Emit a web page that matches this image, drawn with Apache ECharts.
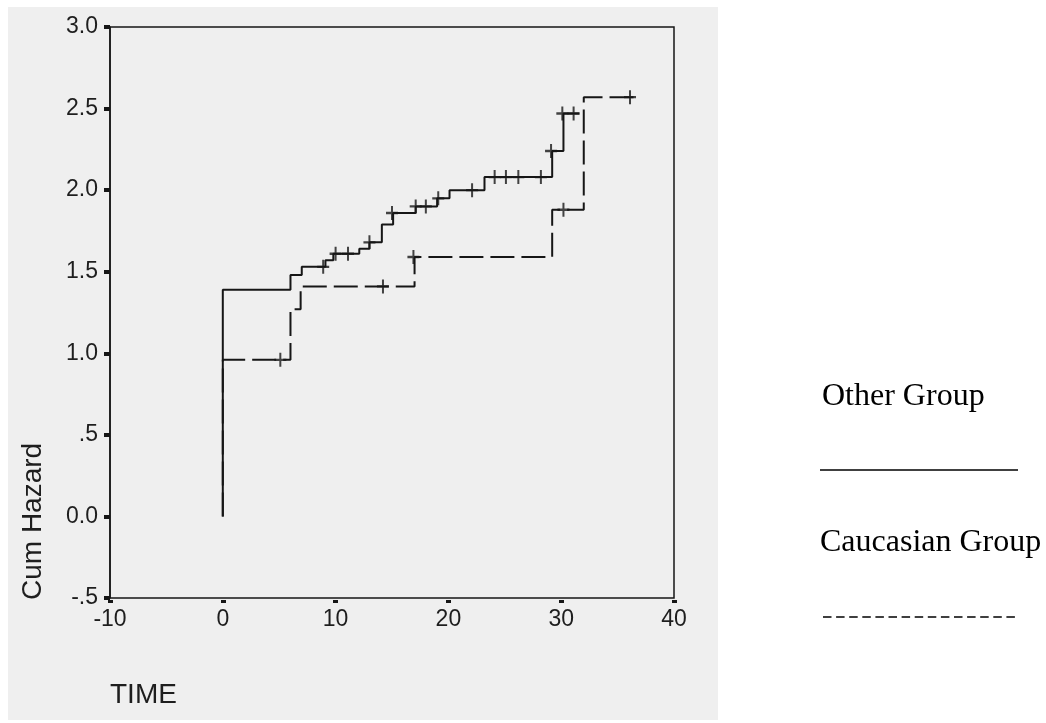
<!DOCTYPE html>
<html>
<head>
<meta charset="utf-8">
<script src="https://cdn.jsdelivr.net/npm/echarts@6/dist/echarts.min.js"></script>
<style>
html,body{margin:0;padding:0;background:#ffffff;}
#chart{width:1046px;height:723px;}
</style>
</head>
<body>
<div id="chart"></div>
<script>
// ---- data ----
const otherName = 'Other Group';
const caucName = 'Caucasian Group';

// step curve of cumulative hazard: [time, value] (value reached at that time)
const otherTimes  = [0, 0,    6.0,  7.0,  9.1,  9.8,  12.1, 13.0, 14.1, 15.1, 17.1, 19.0, 20.1, 23.2, 29.2, 30.2, 31.6];
const otherValues = [0, 1.39, 1.48, 1.53, 1.57, 1.61, 1.64, 1.68, 1.79, 1.86, 1.90, 1.95, 2.00, 2.08, 2.24, 2.47, 2.47];

const caucTimes  = [0, 0,    6.0,  6.9,  17.0, 29.2, 32.0, 36.6];
const caucValues = [0, 0.96, 1.27, 1.41, 1.59, 1.88, 2.57, 2.57];

// censored observations (+ marks)
const otherCensTimes  = [8.9,  10.0, 11.1, 13.0, 15.0, 17.1, 18.0, 19.1, 22.1, 24.1, 25.1, 26.2, 28.2, 29.1, 30.1, 31.1];
const otherCensValues = [1.53, 1.61, 1.61, 1.68, 1.86, 1.90, 1.90, 1.95, 2.00, 2.08, 2.08, 2.08, 2.08, 2.24, 2.47, 2.47];

const caucCensTimes  = [5.1,  14.2, 16.9, 30.2, 36.1];
const caucCensValues = [0.96, 1.41, 1.59, 1.88, 2.57];

const yTickLabels = ['-.5', '0.0', '.5', '1.0', '1.5', '2.0', '2.5', '3.0'];
const xTickLabels = ['-10', '0', '10', '20', '30', '40'];
const yAxisTitle = 'Cum Hazard';
const xAxisTitle = 'TIME';

// ---- build ----
const zip = (a, b) => a.map((v, i) => [v, b[i]]);
const ink = '#161616';
const plusPath = 'path://M5,0H7V5H12V7H7V12H5V7H0V5H5Z';

const chart = echarts.init(document.getElementById('chart'), null, {renderer: 'canvas'});
chart.setOption({
  animation: false,
  backgroundColor: '#ffffff',
  grid: {
    left: 110, top: 27, width: 564, height: 571,
    show: true, borderColor: ink, borderWidth: 1.5, backgroundColor: 'transparent'
  },
  xAxis: {
    type: 'value', min: -10, max: 40, interval: 10, offset: 2,
    axisLine: {show: false, onZero: false},
    axisTick: {show: true, length: 3, lineStyle: {color: ink, width: 5}},
    splitLine: {show: false},
    axisLabel: {
      margin: 8, color: '#1e1e1e', fontSize: 23, fontFamily: 'Liberation Sans',
      formatter: v => xTickLabels[Math.round((v + 10) / 10)]
    }
  },
  yAxis: {
    type: 'value', min: -0.5, max: 3.0, interval: 0.5,
    axisLine: {show: true, onZero: false, lineStyle: {color: ink, width: 1.5}},
    axisTick: {show: true, length: 6, lineStyle: {color: ink, width: 4}},
    splitLine: {show: false},
    axisLabel: {
      margin: 12, color: '#1e1e1e', fontSize: 23, fontFamily: 'Liberation Sans',
      formatter: v => yTickLabels[Math.round((v + 0.5) / 0.5)]
    }
  },
  series: [
    {
      name: caucName, type: 'line', step: 'end', showSymbol: false,
      data: zip(caucTimes, caucValues),
      lineStyle: {color: ink, width: 2, type: [24, 7]}, z: 3
    },
    {
      name: otherName, type: 'line', step: 'end', showSymbol: false,
      data: zip(otherTimes, otherValues),
      lineStyle: {color: ink, width: 2}, z: 3
    },
    {
      name: otherName + ' censored', type: 'scatter', symbol: plusPath, symbolSize: [12, 14],
      data: zip(otherCensTimes, otherCensValues),
      itemStyle: {color: ink}, z: 4
    },
    {
      name: caucName + ' censored', type: 'scatter', symbol: plusPath, symbolSize: [12, 14],
      data: zip(caucCensTimes, caucCensValues),
      itemStyle: {color: ink}, z: 4
    }
  ],
  graphic: [
    {type: 'rect', z: -100, silent: true, shape: {x: 8, y: 7, width: 710, height: 713}, style: {fill: '#efefef'}},
    {type: 'text', x: 33, y: 600, rotation: Math.PI / 2,
      style: {text: yAxisTitle, fill: '#1e1e1e', font: '28px "Liberation Sans"', textAlign: 'left', textVerticalAlign: 'middle'}},
    {type: 'text', x: 110, y: 695,
      style: {text: xAxisTitle, fill: '#1e1e1e', font: '28px "Liberation Sans"', textAlign: 'left', textVerticalAlign: 'middle'}},
    {type: 'text', x: 822, y: 397,
      style: {text: otherName, fill: '#000', font: '32px "Liberation Serif"', textAlign: 'left', textVerticalAlign: 'middle'}},
    {type: 'line', shape: {x1: 820, y1: 470, x2: 1018, y2: 470}, style: {stroke: '#000', lineWidth: 1.5}},
    {type: 'text', x: 820, y: 543,
      style: {text: caucName, fill: '#000', font: '32px "Liberation Serif"', textAlign: 'left', textVerticalAlign: 'middle'}},
    {type: 'line', shape: {x1: 823, y1: 617, x2: 1018, y2: 617}, style: {stroke: '#000', lineWidth: 1.5, lineDash: [8.5, 4.6]}}
  ]
});
</script>
</body>
</html>
